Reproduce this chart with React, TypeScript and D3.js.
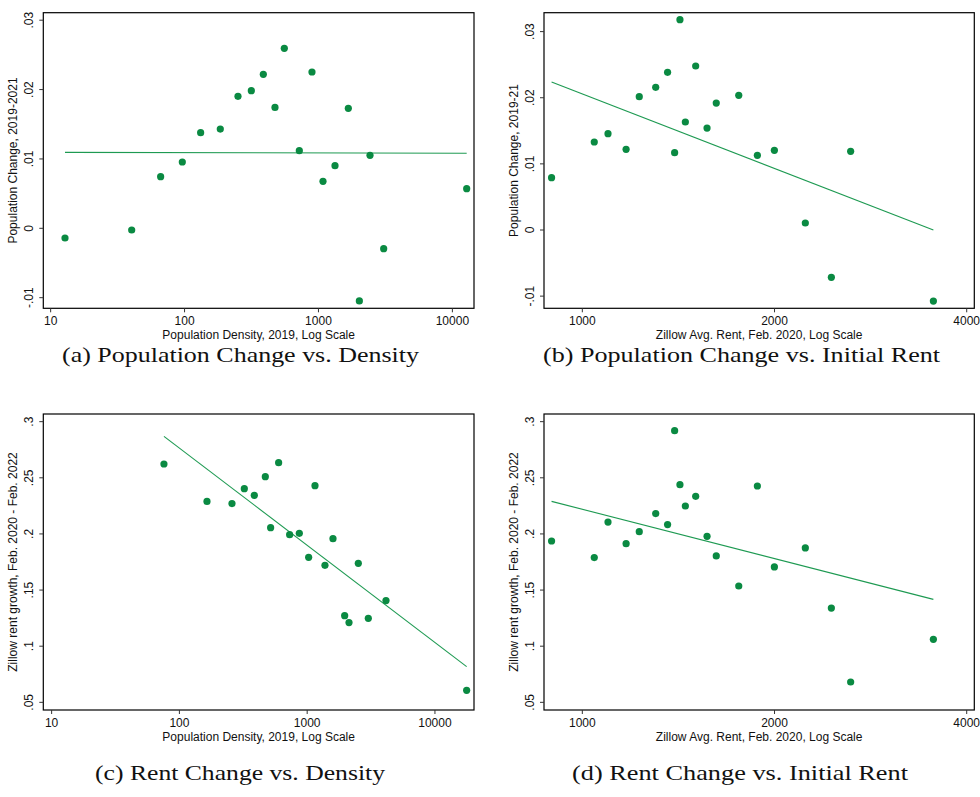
import React from "react";
import * as d3 from "d3";

// ---------- DATA ----------
const densityA = [12.8, 40.3, 66.3, 96.2, 131.9, 184.9, 250.6, 315.2, 387.5, 473.5, 555.9, 719.5, 894.6, 1081, 1329, 1671, 2020, 2426, 3069, 12790];
const popChangeA = [-0.0014, -0.00024, 0.00744, 0.00956, 0.01378, 0.01431, 0.01902, 0.01984, 0.02219, 0.01743, 0.02594, 0.01119, 0.02253, 0.00677, 0.00903, 0.01729, -0.01047, 0.01052, -0.00293, 0.00572];
const fitA = [0.01095, 0.01081];

const rentFeb2020 = [895, 1044, 1097, 1171, 1228, 1303, 1360, 1395, 1422, 1450, 1505, 1568, 1621, 1758, 1880, 1999, 2235, 2455, 2632, 3547];
const popChangeB = [0.00791, 0.01331, 0.01457, 0.0122, 0.02016, 0.02157, 0.02384, 0.01169, 0.0318, 0.01633, 0.0248, 0.01542, 0.0192, 0.02036, 0.01129, 0.01205, 0.00106, -0.00716, 0.0119, -0.01074];
const fitB = [0.02238, 0.0];

const densityC = [75.7, 164.4, 257.9, 322.1, 385.7, 470.2, 517.6, 597.9, 729.2, 867.9, 1027, 1151, 1378, 1592, 1965, 2125, 2513, 3009, 4139, 17706];
const rentGrowthC = [0.2623, 0.229, 0.227, 0.2403, 0.2344, 0.251, 0.2056, 0.2635, 0.1993, 0.2005, 0.1792, 0.243, 0.172, 0.1958, 0.1272, 0.121, 0.1738, 0.1248, 0.1406, 0.0607];
const fitC = [0.2869, 0.0818];

const rentGrowthD = [0.1937, 0.1789, 0.2106, 0.1913, 0.202, 0.2181, 0.2083, 0.292, 0.2439, 0.2249, 0.2335, 0.1979, 0.1804, 0.1536, 0.2427, 0.1706, 0.1875, 0.134, 0.0681, 0.1061];
const fitD = [0.229, 0.1417];

const xTicksDensity = [10, 100, 1000, 10000];
const xTicksRent = [1000, 2000, 4000];
const yTicksPop = [-0.01, 0, 0.01, 0.02, 0.03];
const yTickLabelsPop = ["-.01", "0", ".01", ".02", ".03"];
const yTicksRent = [0.05, 0.1, 0.15, 0.2, 0.25, 0.3];
const yTickLabelsRent = [".05", ".1", ".15", ".2", ".25", ".3"];

const xTitleDensity = "Population Density, 2019, Log Scale";
const xTitleRent = "Zillow Avg. Rent, Feb. 2020, Log Scale";
const yTitleA = "Population Change, 2019-2021";
const yTitleB = "Population Change, 2019-21";
const yTitleRent = "Zillow rent growth, Feb. 2020 - Feb. 2022";
const captions = [
  "(a) Population Change vs. Density",
  "(b) Population Change vs. Initial Rent",
  "(c) Rent Change vs. Density",
  "(d) Rent Change vs. Initial Rent",
];

// ---------- STYLE ----------
const DOT = "#0a8a42";
const LINE = "#1e9a52";
const SANS = "Liberation Sans, Arial, sans-serif";
const SERIF = "Liberation Serif, Times New Roman, serif";

type PanelProps = {
  left: number; top: number; right: number; bottom: number;
  xDomain: [number, number]; yDomain: [number, number];
  xs: number[]; ys: number[]; fit: number[];
  xTicks: number[]; yTicks: number[]; yTickLabels: string[];
  xTitle: string; yTitle: string;
  caption: string; captionX: number; captionY: number; captionW: number;
};

function Panel(p: PanelProps) {
  const x = d3.scaleLog().domain(p.xDomain).range([p.left, p.right]);
  const y = d3.scaleLinear().domain(p.yDomain).range([p.bottom, p.top]);
  const x0 = d3.min(p.xs) as number;
  const x1 = d3.max(p.xs) as number;
  const lineGen = d3.line<[number, number]>().x((d) => x(d[0])).y((d) => y(d[1]));
  const fitPath = lineGen([[x0, p.fit[0]], [x1, p.fit[1]]]) || "";
  const cy = (p.top + p.bottom) / 2;
  const cx = (p.left + p.right) / 2;
  return (
    <g>
      <rect x={p.left} y={p.top} width={p.right - p.left} height={p.bottom - p.top} fill="none" stroke="#000" strokeWidth={1.2} />
      {p.yTicks.map((t, i) => (
        <g key={"y" + i}>
          <line x1={p.left - 4} x2={p.left} y1={y(t)} y2={y(t)} stroke="#333" strokeWidth={1} />
          <text transform={`translate(${p.left - 10},${y(t)}) rotate(-90)`} textAnchor="middle" fontFamily={SANS} fontSize={12} fill="#111">
            {p.yTickLabels[i]}
          </text>
        </g>
      ))}
      {p.xTicks.map((t, i) => (
        <g key={"x" + i}>
          <line x1={x(t)} x2={x(t)} y1={p.bottom} y2={p.bottom + 4} stroke="#333" strokeWidth={1} />
          <text x={x(t)} y={p.bottom + 17} textAnchor="middle" fontFamily={SANS} fontSize={12} fill="#111">
            {d3.format("d")(t)}
          </text>
        </g>
      ))}
      <text x={cx} y={p.bottom + 31} textAnchor="middle" fontFamily={SANS} fontSize={12} fill="#111">{p.xTitle}</text>
      <text transform={`translate(${p.left - 26},${cy}) rotate(-90)`} textAnchor="middle" fontFamily={SANS} fontSize={12} fill="#111">{p.yTitle}</text>
      <path d={fitPath} fill="none" stroke={LINE} strokeWidth={1.1} />
      {p.xs.map((v, i) => (
        <circle key={"c" + i} cx={x(v)} cy={y(p.ys[i])} r={3.6} fill={DOT} />
      ))}
      <text x={p.captionX} y={p.captionY} textAnchor="middle" fontFamily={SERIF} fontSize={21} fill="#111" textLength={p.captionW} lengthAdjust="spacingAndGlyphs">{p.caption}</text>
    </g>
  );
}

export default function App() {
  const leftCol = { left: 43.3, right: 474 };
  const rightCol = { left: 544, right: 974.3 };
  const topRow = { top: 12.7, bottom: 308.3 };
  const botRow = { top: 414, bottom: 710 };
  return (
    <svg width={980} height={797} style={{ position: "absolute", left: 0, top: 0, background: "#fff" }}>
      <rect width={980} height={797} fill="#fff" />
      <Panel {...leftCol} {...topRow} xDomain={[8.814, 14504]} yDomain={[-0.01153, 0.03108]}
        xs={densityA} ys={popChangeA} fit={fitA} xTicks={xTicksDensity} yTicks={yTicksPop} yTickLabels={yTickLabelsPop}
        xTitle={xTitleDensity} yTitle={yTitleA} caption={captions[0]} captionX={240.5} captionY={362} captionW={357} />
      <Panel {...rightCol} {...topRow} xDomain={[870.9, 4111]} yDomain={[-0.01184, 0.03286]}
        xs={rentFeb2020} ys={popChangeB} fit={fitB} xTicks={xTicksRent} yTicks={yTicksPop} yTickLabels={yTickLabelsPop}
        xTitle={xTitleRent} yTitle={yTitleB} caption={captions[1]} captionX={741.5} captionY={362} captionW={397} />
      <Panel {...leftCol} {...botRow} xDomain={[8.606, 20213]} yDomain={[0.04317, 0.30683]}
        xs={densityC} ys={rentGrowthC} fit={fitC} xTicks={xTicksDensity} yTicks={yTicksRent} yTickLabels={yTickLabelsRent}
        xTitle={xTitleDensity} yTitle={yTitleRent} caption={captions[2]} captionX={240} captionY={780} captionW={290} />
      <Panel {...rightCol} {...botRow} xDomain={[870.9, 4111]} yDomain={[0.04317, 0.30683]}
        xs={rentFeb2020} ys={rentGrowthD} fit={fitD} xTicks={xTicksRent} yTicks={yTicksRent} yTickLabels={yTickLabelsRent}
        xTitle={xTitleRent} yTitle={yTitleRent} caption={captions[3]} captionX={740} captionY={780} captionW={336} />
    </svg>
  );
}
